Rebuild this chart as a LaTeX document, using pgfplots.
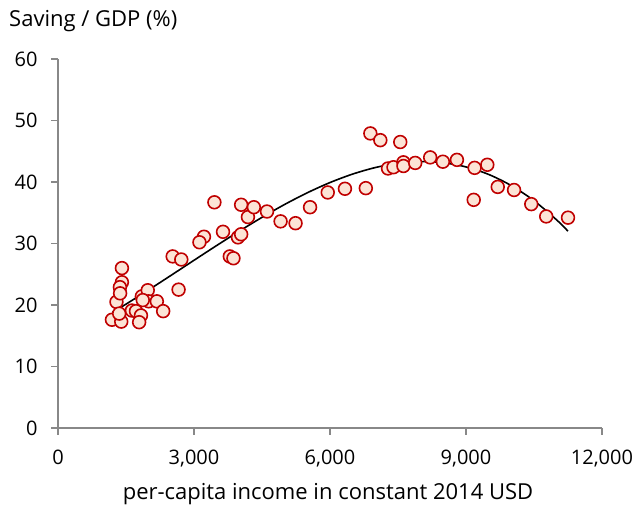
\documentclass[border=0pt]{standalone}
\usepackage{fontspec}
\setmainfont{Open Sans}
\usepackage{pgfplots}
\pgfplotsset{compat=1.18}
\definecolor{axgray}{HTML}{888888}
\definecolor{mkred}{HTML}{C00000}
\definecolor{mkfill}{HTML}{FCE4D6}
\begin{document}
\begin{tikzpicture}
\begin{axis}[
  scale only axis, width=544pt, height=369pt,
  xmin=0, xmax=12000, ymin=0, ymax=60,
  axis lines=left,
  axis line style={-, axgray, line width=1.3pt},
  xtick={0,3000,6000,9000,12000},
  ytick={0,10,20,30,40,50,60},
  tick style={axgray, line width=1.3pt},
  tick align=outside, major tick length=7pt,
  scaled x ticks=false,
  /pgf/number format/assume math mode=true,
  /pgf/number format/1000 sep={,},
  ticklabel style={font=\fontsize{20}{24}\selectfont, text=black},
  yticklabel style={xshift=-10pt},
  xticklabel style={yshift=-11pt},
  clip=false,
]
\addplot[only marks, mark=*, mark size=6.4pt,
  mark options={draw=mkred, fill=mkfill, line width=1.6pt}] coordinates {
(1190,17.6) (1395,17.3) (1290,20.5) (1410,26.0) (1410,23.7) (1366,22.9)
(1370,21.9) (1350,18.6) (1630,19.1) (1720,19.0) (1830,18.3) (1790,17.2)
(1850,21.4) (1980,22.4) (2000,20.6) (1870,20.8) (2180,20.6) (2320,19.0)
(2660,22.5) (2530,27.9) (2720,27.4)
(3450,36.7) (3220,31.1) (3120,30.2) (3640,31.9) (3790,27.9) (3870,27.6)
(3970,31.0) (4040,31.5) (4040,36.3) (4190,34.3) (4320,35.9) (4610,35.2)
(4910,33.6) (5240,33.3) (5560,35.9) (5950,38.3) (6330,38.9) (6790,39.0)
(6890,47.9) (7110,46.8) (7550,46.5) (7280,42.2) (7400,42.4) (7620,43.2)
(7620,42.6) (7880,43.1) (8210,44.0) (8490,43.3) (8800,43.6) (9190,42.3)
(9170,37.1) (9470,42.8) (9700,39.2) (10060,38.7) (10440,36.4) (10770,34.4)
(11250,34.2)
};
\addplot[black, line width=1.6pt, smooth] coordinates {
(1200,18.80) (1500,20.14) (2000,22.46) (2500,24.85) (3000,27.27)
(3500,29.67) (4000,32.01) (4500,34.25) (5000,36.35) (5500,38.25)
(6000,39.91) (6500,41.29) (7000,42.35) (7500,43.04) (8000,43.31)
(8500,43.13) (9000,42.45) (9500,41.23) (10000,39.41) (10500,36.96)
(11000,33.83) (11250,32.00)
};
\end{axis}
\node[anchor=base west, inner sep=0pt, font=\fontsize{22}{26}\selectfont] at (-49pt,401.3pt) {Saving / GDP (\%)};
\node[anchor=base, inner sep=0pt, font=\fontsize{22}{26}\selectfont] at (270pt,-72pt) {per-capita income in constant 2014 USD};
\pgfresetboundingbox
\path (-58pt,-82pt) rectangle (580pt,428pt);
\end{tikzpicture}
\end{document}
